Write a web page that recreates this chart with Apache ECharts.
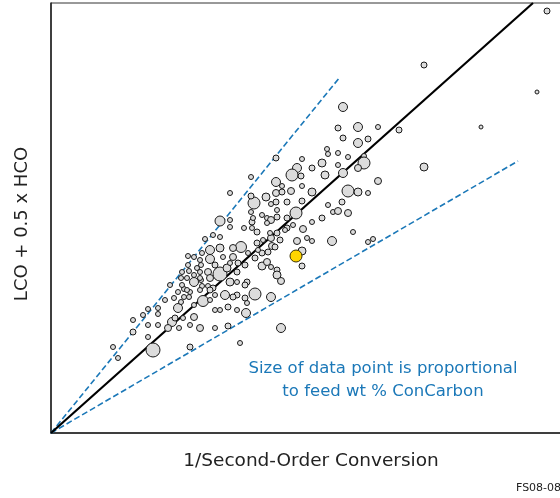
<!DOCTYPE html>
<html>
<head>
<meta charset="utf-8">
<script src="https://cdn.jsdelivr.net/npm/echarts@6/dist/echarts.min.js"></script>
<style>
html,body{margin:0;padding:0;background:#fff;}
#chart{width:560px;height:498px;}
</style>
</head>
<body>
<div id="chart"></div>
<script>
// [1/Second-Order Conversion, LCO + 0.5 x HCO, feed wt % ConCarbon]
const feedPoints = [
[0.62,0.86,2.4],[0.67,0.75,2.4],[0.82,1.01,3.2],[0.82,1.13,2.4],[0.97,1.08,2.4],
[0.97,0.96,2.4],[0.92,1.18,2.4],[0.97,1.24,2.4],[1.07,1.25,2.4],[1.07,1.19,2.4],
[1.07,1.08,2.4],[1.02,0.83,9.6],[1.21,1.11,5.6],[1.17,1.05,4.0],[1.28,1.05,2.4],
[1.27,1.25,5.6],[1.24,1.15,3.2],[1.32,1.15,2.4],[1.39,1.08,2.4],[1.43,1.16,4.0],
[1.49,1.05,4.0],[1.39,0.86,3.2],[1.43,1.28,2.4],[1.52,1.32,7.2],[1.38,1.36,2.4],
[1.33,1.36,2.4],[1.30,1.31,2.4],[1.23,1.35,2.4],[1.27,1.41,2.4],[1.33,1.44,2.4],
[1.39,1.41,2.4],[1.31,1.48,2.4],[1.43,1.51,5.6],[1.50,1.53,2.4],[1.51,1.47,2.4],
[1.57,1.47,2.4],[1.30,1.55,2.4],[1.36,1.55,2.4],[1.31,1.61,2.4],[1.37,1.68,2.4],
[1.38,1.62,2.4],[1.50,1.68,2.4],[1.46,1.65,2.4],[1.49,1.61,2.4],[1.43,1.58,2.4],
[1.59,1.83,5.6],[1.59,1.74,5.6],[1.51,1.80,2.4],[1.49,1.73,2.4],[1.54,1.94,2.4],
[1.43,1.76,2.4],[1.37,1.77,2.4],[1.57,1.61,4.0],[1.59,1.55,4.0],[1.62,1.98,2.4],
[1.64,1.05,2.4],[1.64,1.23,2.4],[1.69,1.59,9.6],[1.77,1.07,3.2],[1.89,0.90,2.4],
[1.95,1.20,5.6],[2.04,1.39,8.0],[2.20,1.36,5.6],[2.30,1.05,5.6],[1.86,1.38,3.2],
[1.94,1.35,3.2],[1.74,1.38,5.6],[1.64,1.38,2.4],[1.76,1.65,4.8],[1.79,1.51,4.8],
[1.94,1.68,3.2],[1.97,1.80,2.4],[2.06,1.90,3.2],[2.01,2.05,2.4],[1.93,2.05,2.4],
[1.79,2.06,2.4],[1.69,1.85,4.8],[1.69,1.96,2.4],[1.90,1.86,7.2],[1.82,1.85,4.0],
[1.69,2.12,6.4],[1.79,2.13,2.4],[2.01,2.11,3.2],[2.11,1.80,3.2],[2.11,1.67,4.8],
[2.16,1.71,4.0],[2.04,1.75,3.2],[2.21,1.87,4.0],[2.20,1.95,4.0],[2.26,2.00,3.2],
[2.29,1.93,3.2],[2.36,2.05,3.2],[2.52,2.04,4.0],[2.42,2.08,2.4],[2.46,1.92,4.0],
[2.51,1.82,4.8],[2.51,1.67,3.2],[2.56,1.95,2.4],[2.61,1.92,2.4],[2.81,1.92,5.6],
[2.26,1.63,3.2],[2.26,1.58,4.8],[2.30,1.52,4.0],[2.15,2.36,4.8],[2.03,2.30,8.0],
[2.00,2.37,3.2],[2.00,2.56,2.4],[1.79,2.40,2.4],[2.25,2.75,3.2],[2.51,2.74,2.4],
[2.76,2.84,2.4],[2.77,2.79,2.4],[2.71,2.70,4.8],[2.61,2.65,3.2],[2.46,2.65,5.6],
[2.41,2.58,8.0],[2.50,2.57,3.2],[2.74,2.58,4.8],[2.25,2.51,5.6],[2.31,2.47,2.4],
[2.51,2.47,2.4],[2.25,2.40,4.0],[2.40,2.42,4.0],[2.61,2.41,4.8],[2.25,2.31,3.2],
[2.36,2.31,3.2],[2.51,2.32,3.2],[2.20,2.29,2.4],[2.26,2.23,2.4],[2.77,2.28,2.4],
[2.45,2.20,8.0],[2.00,2.21,2.4],[2.11,2.18,2.4],[2.16,2.15,2.4],[2.26,2.16,3.2],
[2.20,2.13,4.0],[2.36,2.15,3.2],[2.61,2.11,2.4],[2.71,2.15,3.2],[2.82,2.21,2.4],
[2.92,3.26,5.6],[2.87,3.05,3.2],[3.07,3.06,5.6],[3.27,3.06,2.4],[3.48,3.03,3.2],
[2.92,2.95,3.2],[3.07,2.90,5.6],[3.17,2.94,3.2],[2.87,2.80,2.4],[2.97,2.76,2.4],
[3.13,2.77,2.4],[3.13,2.70,8.0],[3.07,2.65,4.0],[2.87,2.68,2.4],[2.92,2.60,5.6],
[3.73,2.66,4.8],[3.27,2.52,4.0],[2.97,2.42,8.0],[3.07,2.41,4.8],[3.17,2.40,2.4],
[2.91,2.31,3.2],[2.87,2.22,4.0],[2.97,2.20,4.0],[3.02,2.01,2.4],[3.17,1.91,2.4],
[3.22,1.94,2.4],[3.73,3.68,3.2],[4.30,3.06,1.6],[4.86,3.41,1.6],[4.96,4.22,3.2],
[1.82,1.76,4.0],[1.87,1.70,3.2],[1.62,1.45,3.2],[1.96,1.51,3.2],
[2.31,2.41,3.2],[2.02,2.15,2.4],[2.06,2.01,3.2],[2.16,2.10,2.4],[2.19,2.00,2.4],
[2.34,2.03,2.4],[2.24,1.86,3.2],[2.12,1.93,2.4],[2.07,1.83,2.4],[2.17,1.81,3.2],
[2.20,1.66,2.4],[1.94,1.48,3.2],[1.86,1.51,2.4],[1.86,1.61,3.2],[1.79,1.70,2.4],
[1.72,1.76,2.4],[1.64,1.68,3.2],[1.49,1.55,2.4],[1.36,1.43,2.4],[1.49,1.43,2.4],
[1.59,1.43,3.2],[1.82,1.36,3.2],[1.96,1.30,2.4],[1.59,1.33,2.4],[1.86,1.23,2.4],
[1.77,1.26,3.2],[1.69,1.23,2.4],[1.19,1.48,2.4],[1.14,1.33,2.4]
];
const highlightPoint = [[2.45,1.77,8.0]];
const fitLine = [[0,0],[4.82,4.30]];
const upperBound = [[0,0],[2.89,3.56]];
const lowerBound = [[0,0],[4.67,2.72]];
const xTitle = '1/Second-Order Conversion';
const yTitle = 'LCO + 0.5 x HCO';
const noteLines = ['Size of data point is proportional', 'to feed wt % ConCarbon'];
const figId = 'FS08-08';

const FONT = 'DejaVu Sans';
const BLUE = '#1b78b8';
const sizeOf = v => 2 + 1.25 * v[2];

const chart = echarts.init(document.getElementById('chart'), null, {renderer: 'canvas'});
chart.setOption({
  animation: false,
  grid: {left: 51, top: 3, width: 520, height: 430, outerBoundsMode: 'none', containLabel: false,
         show: true, borderColor: '#333', borderWidth: 1, backgroundColor: 'transparent'},
  xAxis: {
    type: 'value', min: 0, max: 5.2,
    axisLine: {show: true, lineStyle: {color: '#222', width: 1.5}},
    axisTick: {show: false}, axisLabel: {show: false}, splitLine: {show: false},
    name: xTitle, nameLocation: 'middle', nameGap: 19,
    nameTextStyle: {fontFamily: FONT, fontSize: 18.5, color: '#222', verticalAlign: 'top'}
  },
  yAxis: {
    type: 'value', min: 0, max: 4.3,
    axisLine: {show: true, lineStyle: {color: '#222', width: 1.5}},
    axisTick: {show: false}, axisLabel: {show: false}, splitLine: {show: false},
    name: yTitle, nameLocation: 'middle', nameGap: 20, nameRotate: 90,
    nameTextStyle: {fontFamily: FONT, fontSize: 18, color: '#222', padding: [0, 12, 0, 0]}
  },
  series: [
    {type: 'line', data: upperBound, symbol: 'none', lineStyle: {color: BLUE, width: 1.6, type: [6, 3]}, z: 2},
    {type: 'line', data: lowerBound, symbol: 'none', lineStyle: {color: BLUE, width: 1.6, type: [6, 3]}, z: 2},
    {type: 'line', data: fitLine, symbol: 'none', lineStyle: {color: '#000', width: 2.2}, z: 3},
    {type: 'scatter', data: feedPoints, symbolSize: sizeOf, z: 4,
     itemStyle: {color: '#dcdcdc', borderColor: '#1a1a1a', borderWidth: 1, opacity: 1}},
    {type: 'scatter', data: highlightPoint, symbolSize: sizeOf, z: 5,
     itemStyle: {color: '#ffd500', borderColor: '#3a3000', borderWidth: 1, opacity: 1}}
  ],
  graphic: [
    {type: 'text', left: 383 - 200, top: 357, style: {text: noteLines.join('\n'), width: 400, align: 'center', font: '16.5px "DejaVu Sans"', fill: BLUE, lineHeight: 23, x: 200, textAlign: 'center'}},
    {type: 'text', left: 516, top: 483, style: {text: figId, font: '11px "DejaVu Sans"', fill: '#222'}}
  ]
});
</script>
</body>
</html>
